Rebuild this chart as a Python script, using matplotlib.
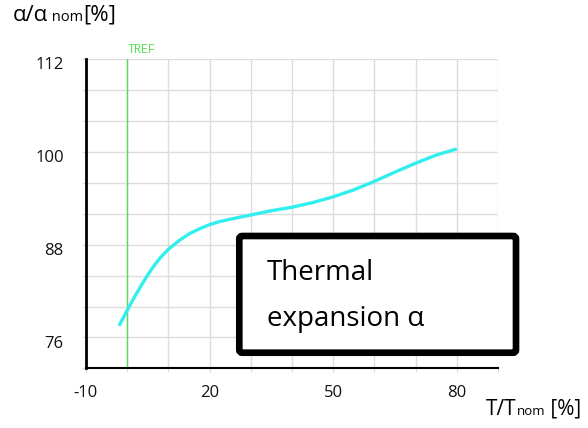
import numpy as np
import matplotlib.pyplot as plt
from matplotlib.patches import FancyBboxPatch
from matplotlib.transforms import ScaledTranslation

plt.close('all')
plt.rcParams['font.family'] = ['Open Sans', 'DejaVu Sans']

# relative thermal expansion vs relative temperature
T_rel = [-2, 0, 2, 4, 6, 8, 10, 12.5, 15, 17.5, 20, 22.5, 25, 30, 35, 40, 45,
         50, 55, 60, 65, 70, 75, 80]
alpha_rel = [77.5, 79.5, 81.45, 83.25, 84.9, 86.3, 87.4, 88.5, 89.4, 90.05, 90.6,
             91.0, 91.3, 91.85, 92.4, 92.85, 93.45, 94.2, 95.1, 96.2, 97.4,
             98.55, 99.6, 100.4]
T_ref = 0

x_ticks = [-10, 0, 10, 20, 30, 40, 50, 60, 70, 80, 90]
x_ticklabels = ['-10', '', '', '20', '', '', '50', '', '', '80', '']
y_ticks = [72, 76, 80, 84, 88, 92, 96, 100, 104, 108, 112]
y_ticklabels = ['', '76', '', '', '88', '', '', '100', '', '', '112']

fig = plt.figure(figsize=(5.88, 4.28), dpi=100)
ax = fig.add_axes([86/588, 1-368.3/428, 412/588, 309/428])

ax.plot(T_rel, alpha_rel, color='#33eeee', lw=2.4, solid_capstyle='butt',
        solid_joinstyle='round', zorder=3)
ax.axvline(T_ref, color='#55dd55', lw=1, zorder=2)
ax.text(T_ref, 1.01, 'TREF', transform=ax.get_xaxis_transform(), family='Liberation Mono',
        fontsize=8.5, color='#55dd55', ha='left', va='bottom')

ax.set_xlim(-10, 90)
ax.set_ylim(72, 112)
ax.set_xticks(x_ticks)
ax.set_xticklabels(x_ticklabels)
ax.set_yticks(y_ticks)
ax.set_yticklabels(y_ticklabels)
ax.grid(True, color='#dddddd', lw=1)
ax.tick_params(axis='both', length=3, color='#dddddd', labelsize=12, labelcolor='#111111')
ax.tick_params(axis='x', pad=9)
ax.tick_params(axis='y', pad=13)
# y labels sit a little below their gridlines
shift = ScaledTranslation(0, -3/72, fig.dpi_scale_trans)
for lab in ax.get_yticklabels():
    lab.set_transform(lab.get_transform() + shift)
for s in ['top', 'right']:
    ax.spines[s].set_visible(False)
ax.spines['left'].set_linewidth(2)
ax.spines['bottom'].set_linewidth(1.5)
ax.spines['left'].set_zorder(4)

# label box
box = FancyBboxPatch((2.393, 0.753), 5.16-2.393, 1.92-0.753,
                     boxstyle='round,pad=0,rounding_size=0.03',
                     transform=fig.dpi_scale_trans, facecolor='white',
                     edgecolor='black', lw=4.8, zorder=5)
fig.add_artist(box)
fig.text(2.667, 1.48, 'Thermal', transform=fig.dpi_scale_trans, fontsize=20,
         va='baseline', ha='left', zorder=6)
fig.text(2.667, 1.02, 'expansion α', transform=fig.dpi_scale_trans, fontsize=20,
         va='baseline', ha='left', zorder=6)

# axis labels built from pieces sharing a baseline
def label_pieces(x, y, pieces):
    fig.canvas.draw()
    r = fig.canvas.get_renderer()
    for s, size in pieces:
        t = fig.text(x, y, s, fontsize=size, va='baseline', ha='left',
                     transform=fig.dpi_scale_trans)
        bb = t.get_window_extent(renderer=r)
        x += bb.width / fig.dpi

label_pieces(0.13, 4.07, [('α/α', 16), (' nom', 10.5), ('[%]', 16)])
label_pieces(4.86, 0.13, [('T/T', 15), ('nom', 9.5), (' [%]', 15)])

fig.savefig('out.png', dpi=100)
